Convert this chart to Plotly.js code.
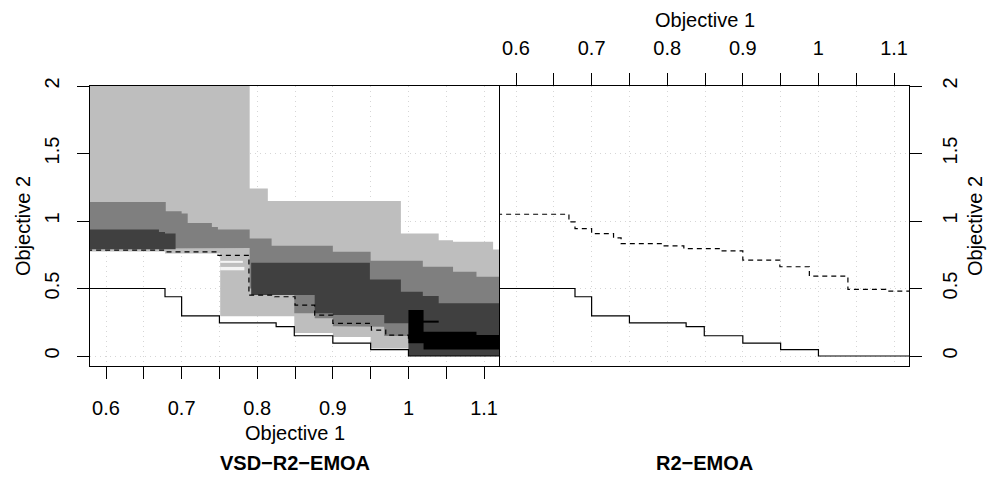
<!DOCTYPE html>
<html>
<head>
<meta charset="utf-8">
<script src="https://cdn.plot.ly/plotly-3.0.1.min.js"></script>
<style>html,body{margin:0;padding:0;background:#fff;}#chart{width:990px;height:483px;}</style>
</head>
<body>
<div id="chart"></div>
<script>
// ---------------- data ----------------
const xTickVals = [0.6, 0.65, 0.7, 0.75, 0.8, 0.85, 0.9, 0.95, 1.0, 1.05, 1.1];
const xTickText = ['0.6', '', '0.7', '', '0.8', '', '0.9', '', '1', '', '1.1'];
const yTickVals = [0, 0.5, 1, 1.5, 2];
const yTickText = ['0', '0.5', '1', '1.5', '2'];

// Left panel: regions where VSD-R2-EMOA is better (each level: x edges, top, bottom per segment)
const lightX = [0.575, 0.678, 0.751, 0.790, 0.814, 0.849, 0.900, 0.950, 0.990, 1.000, 1.040, 1.059, 1.112, 1.125];
const lightTop = [2.05, 2.05, 2.05, 1.24, 1.149, 1.149, 1.149, 1.149, 0.907, 0.907, 0.858, 0.846, 0.789];
const lightBottom = [0.775, 0.76, 0.295, 0.295, 0.295, 0.17, 0.14, 0.055, 0.055, 0, 0, 0, 0];

const medX = [0.575, 0.679, 0.700, 0.708, 0.740, 0.748, 0.790, 0.819, 0.849, 0.876, 0.900, 0.950, 0.968, 1.000, 1.019, 1.059, 1.090, 1.125];
const medTop = [1.141, 1.072, 1.055, 0.986, 0.956, 0.937, 0.870, 0.816, 0.816, 0.816, 0.772, 0.705, 0.705, 0.705, 0.661, 0.624, 0.587];
const medBottom = [0.795, 0.80, 0.80, 0.80, 0.80, 0.80, 0.50, 0.50, 0.316, 0.28, 0.22, 0.217, 0.148, 0.30, 0.30, 0.30, 0.30];

const darkAX = [0.575, 0.670, 0.678, 0.692];
const darkATop = [0.937, 0.919, 0.907];
const darkABottom = [0.791, 0.791, 0.791];

const darkBX = [0.792, 0.876, 0.900, 0.949, 0.968, 0.990, 1.000, 1.019, 1.040, 1.125];
const darkBTop = [0.690, 0.690, 0.690, 0.567, 0.567, 0.476, 0.476, 0.444, 0.390];
const darkBBottom = [0.451, 0.316, 0.303, 0.303, 0.242, 0.242, 0, 0, 0];

const blackX = [1.000, 1.020, 1.090, 1.125];
const blackTop = [0.340, 0.180, 0.155];
const blackBottom = [0.094, 0.049, 0.049];
const blackBarX = [1.019, 1.040];
const blackBarTop = [0.262];
const blackBarBottom = [0.247];

const whiteAX = [0.751, 0.781];
const whiteATop = [0.705];
const whiteABottom = [0.690];
const whiteBX = [0.751, 0.783];
const whiteBTop = [0.660];
const whiteBBottom = [0.635];

// Attainment surfaces (step lines: y held from x[i] to x[i+1])
const bestX = [0.575, 0.678, 0.700, 0.750, 0.825, 0.849, 0.900, 0.950, 1.000, 1.125];
const bestY = [0.5, 0.439, 0.298, 0.246, 0.217, 0.150, 0.096, 0.047, 0, 0];

const leftDashX = [0.575, 0.678, 0.748, 0.789, 0.823, 0.850, 0.876, 0.900, 0.951, 0.970, 1.000, 1.125];
const leftDashY = [0.784, 0.772, 0.745, 0.451, 0.439, 0.377, 0.303, 0.242, 0.192, 0.155, 0.12, 0.12];

const rightDashX = [0.575, 0.670, 0.678, 0.700, 0.729, 0.739, 0.795, 0.822, 0.870, 0.900, 0.949, 0.988, 1.039, 1.089, 1.125];
const rightDashY = [1.050, 0.993, 0.944, 0.907, 0.875, 0.833, 0.816, 0.796, 0.779, 0.710, 0.661, 0.592, 0.493, 0.481, 0.481];

const panelNames = ['VSD\u2212R2\u2212EMOA', 'R2\u2212EMOA'];
const axisNames = ['Objective 1', 'Objective 2'];

// ---------------- helpers ----------------
function band(edges, top, bottom) {
  const xs = [], ys = [];
  for (let i = 0; i < top.length; i++) {
    xs.push(edges[i], edges[i + 1]);
    ys.push(top[i], top[i]);
  }
  for (let i = bottom.length - 1; i >= 0; i--) {
    xs.push(edges[i + 1], edges[i]);
    ys.push(bottom[i], bottom[i]);
  }
  xs.push(xs[0]); ys.push(ys[0]);
  return {xs, ys};
}
function fillTrace(edges, top, bottom, color, xa, ya) {
  const b = band(edges, top, bottom);
  return {x: b.xs, y: b.ys, type: 'scatter', mode: 'lines', fill: 'toself',
          fillcolor: color, line: {width: 0, color: color}, hoverinfo: 'skip',
          showlegend: false, xaxis: xa, yaxis: ya};
}
function stepTrace(xs, ys, dash, xa, ya) {
  return {x: xs, y: ys, type: 'scatter', mode: 'lines',
          line: {shape: 'hv', color: '#000', width: 1.2, dash: dash},
          hoverinfo: 'skip', showlegend: false, xaxis: xa, yaxis: ya};
}

const LIGHT = '#bebebe', MED = '#7f7f7f', DARK = '#404040', BLACK = '#000000';

const traces = [
  fillTrace(lightX, lightTop, lightBottom, LIGHT, 'x', 'y'),
  fillTrace(whiteAX, whiteATop, whiteABottom, '#f4f4f4', 'x', 'y'),
  fillTrace(whiteBX, whiteBTop, whiteBBottom, '#f4f4f4', 'x', 'y'),
  fillTrace(medX, medTop, medBottom, MED, 'x', 'y'),
  fillTrace(darkAX, darkATop, darkABottom, DARK, 'x', 'y'),
  fillTrace(darkBX, darkBTop, darkBBottom, DARK, 'x', 'y'),
  fillTrace(blackX, blackTop, blackBottom, BLACK, 'x', 'y'),
  fillTrace(blackBarX, blackBarTop, blackBarBottom, BLACK, 'x', 'y'),
  stepTrace(bestX, bestY, 'solid', 'x', 'y'),
  stepTrace(leftDashX, leftDashY, '5px,4px', 'x', 'y'),
  stepTrace(bestX, bestY, 'solid', 'x2', 'y2'),
  stepTrace(rightDashX, rightDashY, '5px,4px', 'x2', 'y2')
];

const FONT = 'Liberation Sans, Arial, Helvetica, sans-serif';
const xr = [0.5788, 1.1198], yr = [-0.074, 2.0];
const common = {
  showline: true, linecolor: '#000', linewidth: 1, mirror: true,
  ticks: 'outside', ticklen: 12, tickcolor: '#000', tickwidth: 1,
  showgrid: true, gridcolor: '#d6d6d6', griddash: '1px,4px', gridwidth: 1,
  zeroline: false, tickfont: {family: FONT, size: 20, color: '#000'},
  fixedrange: true
};
const layout = {
  width: 990, height: 483,
  margin: {l: 90, r: 81, t: 86, b: 117, pad: 0},
  paper_bgcolor: '#fff', plot_bgcolor: '#fff',
  showlegend: false,
  xaxis: Object.assign({}, common, {domain: [0, 0.4994], range: xr, anchor: 'y', side: 'bottom',
    tickmode: 'array', tickvals: xTickVals, ticktext: xTickText, ticklabelstandoff: 12}),
  yaxis: Object.assign({}, common, {domain: [0, 1], range: yr, anchor: 'x', side: 'left',
    tickmode: 'array', tickvals: yTickVals, ticktext: yTickText, tickangle: -90, ticklabelstandoff: 10}),
  xaxis2: Object.assign({}, common, {domain: [0.5006, 1], range: xr, anchor: 'y2', side: 'top',
    tickmode: 'array', tickvals: xTickVals, ticktext: xTickText, ticklabelstandoff: 10}),
  yaxis2: Object.assign({}, common, {domain: [0, 1], range: yr, anchor: 'x2', side: 'right',
    tickmode: 'array', tickvals: yTickVals, ticktext: yTickText, tickangle: -90, ticklabelstandoff: 11}),
  annotations: [
    {text: axisNames[0], xref: 'paper', yref: 'paper', x: (294.5 - 90) / 819, y: (366 - 433) / 280,
     showarrow: false, font: {family: FONT, size: 20, color: '#000'}, xanchor: 'center', yanchor: 'middle'},
    {text: axisNames[0], xref: 'paper', yref: 'paper', x: (704.5 - 90) / 819, y: (366 - 20) / 280,
     showarrow: false, font: {family: FONT, size: 20, color: '#000'}, xanchor: 'center', yanchor: 'middle'},
    {text: axisNames[1], xref: 'paper', yref: 'paper', x: (23 - 90) / 819, y: 0.5, textangle: -90,
     showarrow: false, font: {family: FONT, size: 20, color: '#000'}, xanchor: 'center', yanchor: 'middle'},
    {text: axisNames[1], xref: 'paper', yref: 'paper', x: (975 - 90) / 819, y: 0.5, textangle: -90,
     showarrow: false, font: {family: FONT, size: 20, color: '#000'}, xanchor: 'center', yanchor: 'middle'},
    {text: '<b>' + panelNames[0] + '</b>', xref: 'paper', yref: 'paper', x: (294.5 - 90) / 819, y: (366 - 463) / 280,
     showarrow: false, font: {family: FONT, size: 20, color: '#000'}, xanchor: 'center', yanchor: 'middle'},
    {text: '<b>' + panelNames[1] + '</b>', xref: 'paper', yref: 'paper', x: (704.5 - 90) / 819, y: (366 - 463) / 280,
     showarrow: false, font: {family: FONT, size: 20, color: '#000'}, xanchor: 'center', yanchor: 'middle'}
  ]
};
Plotly.newPlot('chart', traces, layout, {staticPlot: true, displayModeBar: false});
</script>
</body>
</html>
